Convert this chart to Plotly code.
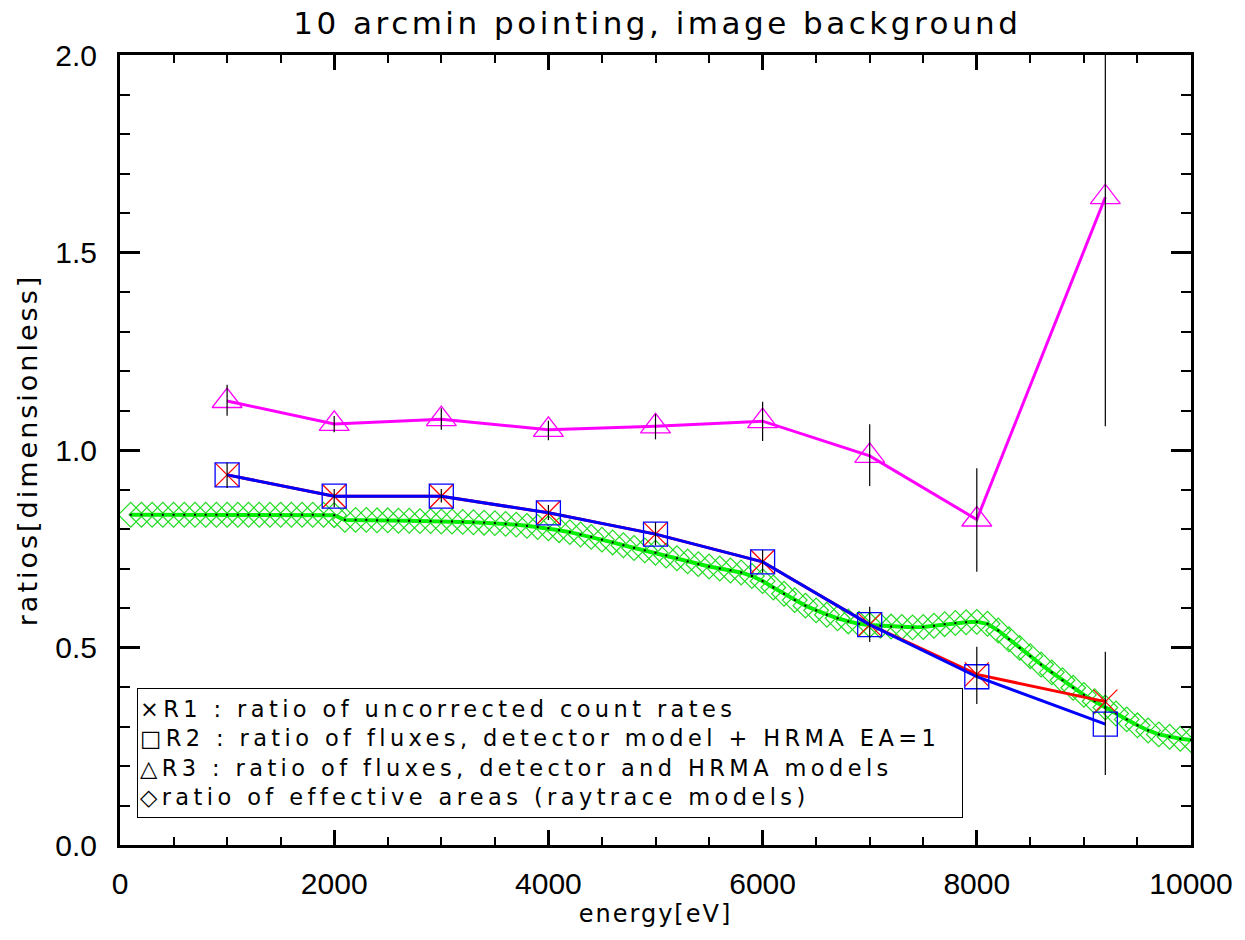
import plotly.graph_objects as go

# ---- data ----
energy = [1000, 2000, 3000, 4000, 5000, 6000, 7000, 8000, 9200]
r1 = [0.937, 0.883, 0.883, 0.841, 0.787, 0.717, 0.558, 0.432, 0.363]
r1_err_plus = [0.031, 0.018, 0.018, 0.020, 0.030, 0.030, 0.045, 0.070, 0.126]
r1_err_minus = [0.033, 0.028, 0.016, 0.018, 0.028, 0.028, 0.044, 0.075, 0.186]
r2 = [0.937, 0.883, 0.883, 0.841, 0.787, 0.717, 0.558, 0.426, 0.306]
r3 = [1.124, 1.066, 1.078, 1.051, 1.060, 1.073, 0.985, 0.824, 1.640]
r3_err_plus = [0.041, 0.020, 0.028, 0.023, 0.031, 0.049, 0.080, 0.130, 0.580]
r3_err_minus = [0.037, 0.021, 0.027, 0.026, 0.033, 0.050, 0.076, 0.132, 0.580]

ea_energy = [100 * i for i in range(1, 101)]
ea_ratio = [
    0.836, 0.836, 0.836, 0.836, 0.836, 0.836, 0.836, 0.836, 0.836, 0.836,
    0.836, 0.836, 0.836, 0.836, 0.836, 0.836, 0.836, 0.836, 0.836, 0.835,
    0.823, 0.823, 0.823, 0.822, 0.822, 0.821, 0.821, 0.820, 0.820, 0.819,
    0.819, 0.818, 0.817, 0.816, 0.815, 0.813, 0.811, 0.808, 0.805, 0.802,
    0.797, 0.792, 0.786, 0.780, 0.773, 0.766, 0.759, 0.752, 0.746, 0.740,
    0.733, 0.726, 0.718, 0.711, 0.705, 0.700, 0.695, 0.690, 0.681, 0.668,
    0.652, 0.636, 0.620, 0.606, 0.594, 0.583, 0.574, 0.566, 0.560, 0.557,
    0.555, 0.553, 0.552, 0.551, 0.552, 0.555, 0.559, 0.562, 0.564, 0.565,
    0.560, 0.543, 0.521, 0.499, 0.478, 0.457, 0.437, 0.417, 0.398, 0.380,
    0.364, 0.348, 0.333, 0.318, 0.303, 0.290, 0.280, 0.274, 0.269, 0.266,
]

x_tickvals = [0, 2000, 4000, 6000, 8000, 10000]
x_ticktext = ["0", "2000", "4000", "6000", "8000", "10000"]
y_tickvals = [0.0, 0.5, 1.0, 1.5, 2.0]

legend_lines = [
    "\u00d7R1 : ratio of uncorrected count rates",
    "\u25a1R2 : ratio of fluxes, detector model + HRMA EA=1",
    "\u25b3R3 : ratio of fluxes, detector and HRMA models",
    "\u25c7ratio of effective areas (raytrace models)",
]

title_text = "10 arcmin pointing, image background"
x_title = "energy[eV]"
y_title = "ratios[dimensionless]"

FONT = "DejaVu Sans"
TICKFONT = "Liberation Sans"


def spaced(s, px):
    return f'<span style="letter-spacing:{px}px">{s}</span>'


fig = go.Figure()

# effective-area ratio (green diamonds + line)
fig.add_trace(go.Scatter(
    x=ea_energy, y=ea_ratio, mode="lines+markers",
    line=dict(color="#00f000", width=4),
    marker=dict(symbol="diamond-open", size=19, color="#22dd22",
                line=dict(width=1.2, color="#22dd22")),
    showlegend=False, hoverinfo="skip"))
fig.add_trace(go.Scatter(
    x=ea_energy, y=ea_ratio, mode="markers",
    marker=dict(symbol="square", size=2, color="black"),
    showlegend=False, hoverinfo="skip"))

# R1 red
fig.add_trace(go.Scatter(
    x=energy, y=r1, mode="lines+markers",
    line=dict(color="red", width=3),
    marker=dict(symbol="x-thin-open", size=24,
                line=dict(width=1.3, color="red")),
    showlegend=False))

# R2 blue
fig.add_trace(go.Scatter(
    x=energy, y=r2, mode="lines+markers",
    line=dict(color="#0000ff", width=3),
    marker=dict(symbol="square-open", size=24, color="#0000ff",
                line=dict(width=1.3, color="#0000ff")),
    showlegend=False))

# R3 magenta
fig.add_trace(go.Scatter(
    x=energy, y=r3, mode="lines+markers",
    line=dict(color="#ff00ff", width=3),
    marker=dict(symbol="triangle-up-open", size=26, color="#ff00ff",
                line=dict(width=1.3, color="#ff00ff")),
    showlegend=False))

# error bars (black, no caps)
fig.add_trace(go.Scatter(
    x=energy, y=r1, mode="markers",
    marker=dict(size=1, color="rgba(0,0,0,0)"),
    error_y=dict(type="data", symmetric=False, array=r1_err_plus,
                 arrayminus=r1_err_minus, color="black", thickness=1.2, width=0),
    showlegend=False, hoverinfo="skip"))
fig.add_trace(go.Scatter(
    x=energy, y=r3, mode="markers",
    marker=dict(size=1, color="rgba(0,0,0,0)"),
    error_y=dict(type="data", symmetric=False, array=r3_err_plus,
                 arrayminus=r3_err_minus, color="black", thickness=1.2, width=0),
    showlegend=False, hoverinfo="skip"))

# legend box as annotation
fig.add_annotation(
    xref="paper", yref="paper", x=0.0158, y=0.1987,
    xanchor="left", yanchor="top", align="left",
    text="<br>".join(spaced(s, 4.4) for s in legend_lines), showarrow=False,
    font=dict(family=FONT, size=22.5, color="black"),
    bordercolor="black", borderwidth=1, borderpad=2,
    bgcolor="white", width=820, height=124)

axis_common = dict(
    showline=True, linecolor="black", linewidth=3, mirror="allticks",
    ticks="inside", tickcolor="black", tickwidth=2.5,
    showgrid=False, zeroline=False,
    tickfont=dict(family=TICKFONT, size=30, color="black"),
)

fig.update_xaxes(
    range=[0, 10000], tickvals=x_tickvals, ticktext=x_ticktext,
    ticklen=15, ticklabelstandoff=10,
    minor=dict(dtick=500, ticks="inside", ticklen=8, tickwidth=2, tickcolor="black"),
    title=dict(text=spaced(x_title, 2), font=dict(family=FONT, size=24, color="black"),
               standoff=2),
    **axis_common)
fig.update_yaxes(
    range=[0, 2.0], tickvals=y_tickvals, tickformat=".1f",
    ticklen=20, ticklabelstandoff=14,
    minor=dict(dtick=0.1, ticks="inside", ticklen=10, tickwidth=2, tickcolor="black"),
    title=dict(text=spaced(y_title, 3), font=dict(family=FONT, size=27, color="black"),
               standoff=10),
    **axis_common)

fig.update_layout(
    width=1245, height=940,
    margin=dict(l=120, r=50, t=55, b=95),
    paper_bgcolor="white", plot_bgcolor="white",
    title=dict(text=spaced(title_text, 3.5), x=0.528, xanchor="center", y=0.975,
               yanchor="middle",
               font=dict(family=FONT, size=31, color="black")),
)

fig.write_html(
    "out.html",
    config={"displayModeBar": False},
    post_script="document.body.style.margin='0';document.body.style.overflow='hidden';",
)
